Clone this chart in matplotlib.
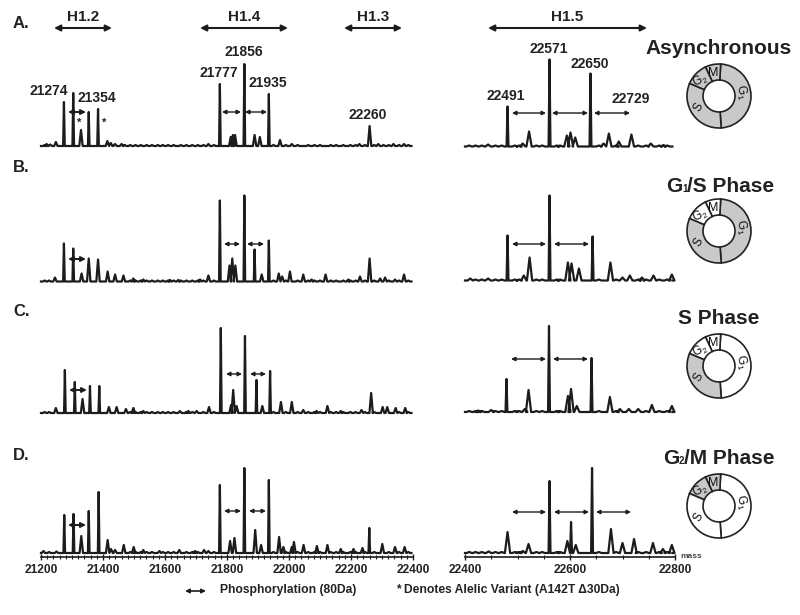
import matplotlib
matplotlib.use("Agg")
import matplotlib.pyplot as plt
from matplotlib.patches import Wedge

plt.rcParams["font.family"] = ["Liberation Sans", "DejaVu Sans"]
plt.rcParams["font.weight"] = "bold"
plt.rcParams["mathtext.default"] = "regular"

FIG_W, FIG_H = 800, 615
INK = "#1c1c1c"
GREY = "#c9c9c9"

# left spectra, H1.2 / H1.4 / H1.3 region
a_left_mass = [21218, 21230, 21248, 21274, 21304, 21329, 21354, 21384, 21414, 21425, 21439, 21460,
               21740, 21777, 21812, 21819, 21826, 21856, 21889, 21906,
               21935, 21971, 22009, 22227, 22260, 22288, 22337, 22371]
a_left_height = [2, 1.5, 4, 44, 53, 16, 34, 37, 5, 3, 2, 2,
                 2, 62, 9, 11, 11, 82, 11, 9,
                 52, 6, 2, 2, 20, 2, 2, 2]

b_left_mass = [21245, 21274, 21304, 21331, 21354, 21384, 21415, 21439, 21466, 21498, 21530,
               21616, 21643, 21713, 21740, 21777, 21808, 21817, 21827, 21856, 21889, 21912,
               21935, 21967, 21978, 22003, 22046, 22073, 22118, 22191, 22229, 22260, 22294,
               22310, 22342, 22371]
b_left_height = [4, 38, 33, 8, 23, 22, 10, 7, 6, 3, 2,
                 1.5, 1.5, 2, 6, 81, 16, 23, 16, 86, 32, 7,
                 41, 8, 5, 10, 7, 2, 7, 2, 5, 23, 3,
                 4, 2, 7]

c_left_mass = [21248, 21277, 21309, 21334, 21358, 21388, 21419, 21444, 21474, 21498, 21530,
               21648, 21675, 21702, 21742, 21780, 21813, 21820, 21831, 21858, 21895, 21914,
               21939, 21974, 22009, 22046, 22089, 22124, 22167, 22234, 22265, 22302, 22317,
               22344, 22375]
c_left_height = [5, 43, 31, 14, 27, 27, 6, 6, 4, 5, 2,
                 2, 2, 2, 6, 85, 8, 23, 7, 77, 33, 7,
                 42, 11, 11, 3, 2, 7, 2, 3, 20, 6, 6,
                 5, 5]

d_left_mass = [21208, 21250, 21275, 21305, 21330, 21354, 21386, 21415, 21426, 21439, 21467, 21499,
               21530, 21582, 21646, 21697, 21726, 21740, 21777, 21810, 21824, 21856, 21891, 21910,
               21935, 21968, 21982, 22009, 22016, 22047, 22090, 22124, 22167, 22208, 22237, 22259,
               22301, 22342, 22373]
d_left_height = [2, 1.5, 38, 39, 17, 42, 61, 13, 4, 3, 8, 6,
                 3, 2, 3, 2, 3, 2, 68, 12, 15, 85, 23, 8,
                 73, 16, 6, 6, 11, 8, 7, 8, 4, 4, 5, 25,
                 9, 6, 6]

# low ripple seen along the left baselines
left_ripple = [21212, 21226, 21470, 21488, 21505, 21522, 21541, 21558, 21577, 21593, 21610, 21628,
               21651, 21669, 21688, 21706, 21724, 21758, 21950, 21990, 22028, 22062, 22082, 22100,
               22135, 22152, 22175, 22198, 22215, 22245, 22275, 22305, 22322, 22355, 22385]

# right spectra, H1.5 region
a_right_mass = [22444, 22481, 22510, 22522, 22561, 22594, 22601, 22610, 22639, 22664, 22674, 22693, 22717, 22754, 22778]
a_right_height = [2, 40, 3, 15, 87, 11, 14, 9, 73, 3, 13, 5, 12, 3, 1.5]

b_right_mass = [22410, 22444, 22481, 22512, 22523, 22561, 22596, 22603, 22617, 22643, 22677, 22700, 22714, 22737, 22759, 22794]
b_right_height = [2, 2, 45, 5, 23, 85, 18, 17, 12, 44, 18, 3, 5, 3, 5, 6]

c_right_mass = [22425, 22450, 22479, 22514, 22521, 22560, 22596, 22602, 22613, 22641, 22676, 22695, 22712, 22730, 22756, 22794]
c_right_height = [1.5, 2, 33, 3, 22, 86, 16, 23, 6, 54, 15, 3, 3, 3, 7, 6]

d_right_mass = [22445, 22481, 22510, 22521, 22561, 22595, 22602, 22611, 22642, 22678, 22700, 22722, 22758, 22777, 22794]
d_right_height = [1.5, 21, 2, 9, 72, 12, 31, 8, 85, 24, 10, 14, 10, 4, 8]

right_ripple = [22408, 22420, 22432, 22458, 22470, 22495, 22503, 22536, 22547, 22575, 22581, 22655, 22688, 22730, 22745, 22770, 22785]

left_ticks = [21200, 21400, 21600, 21800, 22000, 22200, 22400]
right_ticks = [22400, 22600, 22800]

panel_letters = ["A.", "B.", "C.", "D."]
ring_fills = [
    {"G1": True, "S": True, "G2": True, "M": True},
    {"G1": True, "S": True, "G2": False, "M": False},
    {"G1": False, "S": True, "G2": False, "M": False},
    {"G1": False, "S": False, "G2": True, "M": True},
]

# pixel layout of the panels
LEFT_BASE = [146, 281.5, 413, 553]
RIGHT_BASE = [146.5, 280.5, 412, 553]
RING_Y = [96, 231, 366, 506]
TITLE_Y = [47, 184, 317, 457]
LETTER_Y = [24, 168, 312, 455]


def trace(mass, height, ripple, start, stop, half, wide):
    peaks = list(zip(mass, height))
    for r in ripple:
        if all(abs(r - m) > 2.2 * half for m in mass):
            peaks.append((r, 1))
    peaks.sort()
    xs, ys = [start], [0]
    for m, h in peaks:
        w = wide if h < 25 else half
        xs += [m - w, m, m + w]
        ys += [0, h, 0]
    xs.append(stop)
    ys.append(0)
    return xs, ys


def spectrum_axes(fig, x0, x1, base, xlim, mass, height, ripple, half, wide, lw, axis=None, minor=None):
    drop = 3.7
    top = 105
    ax = fig.add_axes([x0 / FIG_W, 1 - (base + drop) / FIG_H, (x1 - x0) / FIG_W, (top + drop) / FIG_H])
    ax.patch.set_alpha(0)
    xs, ys = trace(mass, height, ripple, xlim[0], xlim[1] - 5, half, wide)
    ax.plot(xs, ys, color=INK, lw=lw, solid_joinstyle="round", clip_on=False)
    ax.set_xlim(*xlim)
    ax.set_ylim(-drop, top)
    ax.set_yticks([])
    for side in ["top", "left", "right"]:
        ax.spines[side].set_visible(False)
    if axis is None:
        ax.spines["bottom"].set_visible(False)
        ax.set_xticks([])
    else:
        ax.spines["bottom"].set_linewidth(1.2)
        ax.spines["bottom"].set_color(INK)
        ax.set_xticks(axis)
        ax.set_xticks(minor, minor=True)
        ax.tick_params(axis="x", which="major", direction="inout", length=4, width=1, color=INK, pad=3.5)
        ax.tick_params(axis="x", which="minor", direction="inout", length=2.5, width=0.8, color=INK)
        for lab in ax.get_xticklabels():
            lab.set_fontsize(8.6)
            lab.set_fontweight("bold")
            lab.set_color("#222222")
    return ax


def draw_ring(ov, cx, cy, fills):
    outer, width = 32, 16
    segs = {"G1": (-86, 87), "M": (87, 115), "G2": (115, 157), "S": (157, 274)}
    for name, (a1, a2) in segs.items():
        face = GREY if fills[name] else "white"
        ov.add_patch(Wedge((cx, cy), outer, -a2, -a1, width=width, facecolor=face, edgecolor="#222222", lw=1.2))
    labels = [("G$_{1}$", 22, -4, -78, 8.5), ("S", -20, 11, 62, 8.5), ("G$_{2}$", -19, -15, 28, 8.5), ("M", -6, -23, 0, 9)]
    for txt, dx, dy, rot, size in labels:
        ov.text(cx + dx, cy + dy, txt, fontsize=size, fontweight="normal", color="#111111", ha="center",
                va="center", rotation=rot)


def draw_title(ov, i):
    y = TITLE_Y[i] + 7.5
    if i == 0:
        ov.text(719, y, "Asynchronous", fontsize=15, color="#222222", ha="center", va="baseline")
    elif i == 1:
        ov.text(666, y, "G", fontsize=15, color="#222222", va="baseline")
        ov.text(682, y, "1", fontsize=7, color="#222222", va="baseline")
        ov.text(687, y, "/S Phase", fontsize=15, color="#222222", va="baseline")
    elif i == 2:
        ov.text(719, y, "S Phase", fontsize=15, color="#222222", ha="center", va="baseline")
    else:
        ov.text(663, y, "G", fontsize=15, color="#222222", va="baseline")
        ov.text(679, y, "2", fontsize=7, color="#222222", va="baseline")
        ov.text(684, y, "/M Phase", fontsize=15, color="#222222", va="baseline")


def double_arrow(ov, x0, x1, y, lw=1.0, scale=6):
    ov.annotate("", xy=(x1, y), xytext=(x0, y),
                arrowprops=dict(arrowstyle="<|-|>", lw=lw, color=INK, mutation_scale=scale,
                                shrinkA=0, shrinkB=0))


fig = plt.figure(figsize=(8, 6.15), dpi=100, facecolor="white")

left_mass = [a_left_mass, b_left_mass, c_left_mass, d_left_mass]
left_height = [a_left_height, b_left_height, c_left_height, d_left_height]
right_mass = [a_right_mass, b_right_mass, c_right_mass, d_right_mass]
right_height = [a_right_height, b_right_height, c_right_height, d_right_height]

for i in range(4):
    last = i == 3
    spectrum_axes(fig, 41, 413, LEFT_BASE[i], (21200, 22400), left_mass[i], left_height[i], left_ripple,
                  2.6, 5.5, 1.6,
                  axis=left_ticks if last else None,
                  minor=list(range(21200, 22401, 20)) if last else None)
    spectrum_axes(fig, 465, 675, RIGHT_BASE[i], (22400, 22800), right_mass[i], right_height[i], right_ripple,
                  1.8, 5, 1.6,
                  axis=right_ticks if last else None,
                  minor=list(range(22400, 22801, 50)) if last else None)

# overlay in pixel units for the annotation layer
ov = fig.add_axes([0, 0, 1, 1], zorder=5)
ov.set_xlim(0, FIG_W)
ov.set_ylim(FIG_H, 0)
ov.axis("off")
ov.patch.set_alpha(0)

for i in range(4):
    ov.text(13, LETTER_Y[i], panel_letters[i], fontsize=12, color="#222222", va="center")
    draw_title(ov, i)
    draw_ring(ov, 719, RING_Y[i], ring_fills[i])

for name, x0, x1 in [("H1.2", 54, 112), ("H1.4", 200, 288), ("H1.3", 344, 402), ("H1.5", 488, 647)]:
    double_arrow(ov, x0, x1, 28, lw=1.5, scale=9)
    ov.text((x0 + x1) / 2, 17, name, fontsize=11, color="#222222", ha="center", va="center")

peak_labels = [("21274", 49, 91), ("21354", 97, 98), ("21777", 219, 73), ("21856", 244, 52),
               ("21935", 268, 83), ("22260", 368, 115), ("22491", 506, 96), ("22571", 549, 49),
               ("22650", 590, 64), ("22729", 631, 99)]
for txt, x, y in peak_labels:
    ov.text(x, y, txt, fontsize=10, color="#222222", ha="center", va="center")

for x in [79, 104]:
    ov.text(x, 123, "*", fontsize=8, color="#222222", ha="center", va="center")

thick_arrows = [(68, 86, 112), (68, 86, 259), (69, 87, 390), (68, 86, 525)]
for x0, x1, y in thick_arrows:
    double_arrow(ov, x0, x1, y, lw=1.4, scale=7)

thin_arrows = [(222, 241, 112), (245, 267, 112), (512, 546, 113), (552, 588, 113), (594, 630, 113),
               (224, 240, 244), (247, 264, 244), (512, 546, 244), (554, 589, 244),
               (226, 242, 374), (250, 266, 374), (511, 546, 359), (553, 588, 359),
               (224, 241, 511), (249, 266, 511), (512, 546, 512), (554, 589, 512), (596, 631, 512)]
for x0, x1, y in thin_arrows:
    double_arrow(ov, x0, x1, y)

double_arrow(ov, 185, 206, 591, lw=1.2, scale=6)
ov.text(220, 590, "Phosphorylation (80Da)", fontsize=8.7, color="#222222", va="center")
ov.text(396, 590, "* Denotes Alelic Variant (A142T \u039430Da)", fontsize=8.7, color="#222222", va="center")
ov.text(691, 556, "mass", fontsize=6, color="#444444", ha="center", va="center")

fig.savefig("out.png", dpi=100, facecolor="white")
plt.close(fig)
